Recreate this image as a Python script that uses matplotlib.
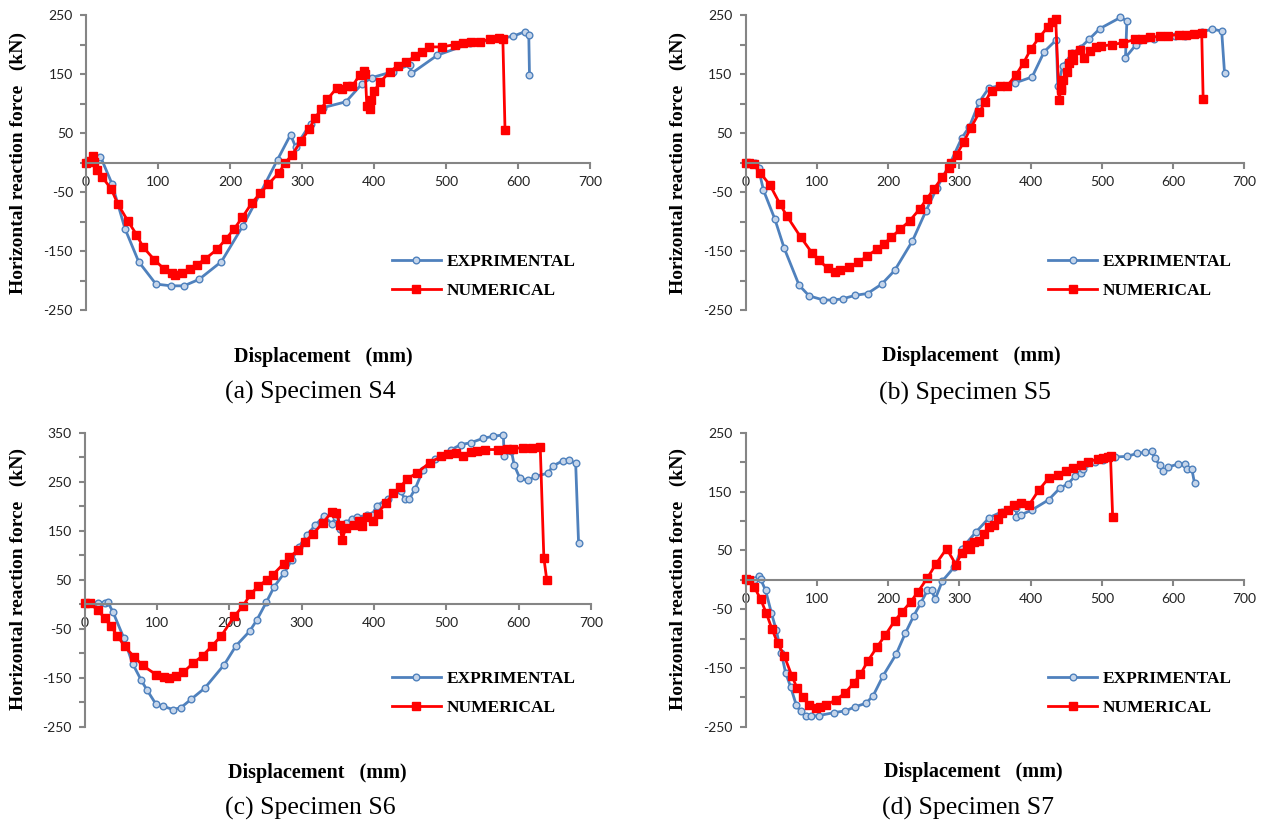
import matplotlib
matplotlib.use('Agg')
import matplotlib.pyplot as plt
from matplotlib.lines import Line2D

# ---- data (displacement mm, force kN) ----
# S4
s4_exp_x = [0, 20, 36, 54, 73, 97, 118, 136, 157, 188, 218, 242, 266, 284, 291, 312, 329, 361, 383, 397,
            426, 450, 452, 488, 534, 593, 610, 615, 616]
s4_exp_y = [0, 10, -36, -112, -168, -206, -209, -209, -198, -168, -107, -52, 5, 47, 27, 66, 93, 103, 133, 144,
            154, 166, 151, 182, 202, 214, 222, 217, 148]
s4_num_x = [0, 4, 10, 11, 15, 22, 35, 44, 58, 70, 79, 95, 108, 119, 124, 133, 144, 154, 165, 182, 194, 206,
            217, 230, 242, 253, 268, 277, 286, 299, 310, 318, 327, 335, 348, 355, 362, 370, 380, 386, 388, 390,
            395, 396, 400, 409, 422, 433, 445, 457, 466, 477, 494, 513, 524, 535, 547, 561, 573, 579, 582]
s4_num_y = [0, 2, 11, 1, -13, -24, -45, -70, -99, -122, -143, -165, -180, -188, -190, -187, -180, -173, -164,
            -147, -130, -112, -93, -69, -52, -37, -17, 0, 13, 37, 57, 75, 91, 107, 126, 124, 130, 130, 148, 155,
            150, 96, 90, 106, 121, 137, 154, 164, 171, 180, 187, 196, 196, 200, 203, 205, 205, 209, 211, 209, 55]

# S5
s5_exp_x = [0, 13, 18, 25, 41, 54, 75, 89, 109, 123, 136, 154, 171, 191, 209, 234, 253, 268, 287, 303, 314,
            328, 341, 355, 378, 402, 419, 436, 438, 445, 458, 470, 482, 497, 526, 535, 533, 548, 573, 602, 616,
            641, 655, 668, 672]
s5_exp_y = [0, 0, -10, -47, -96, -145, -208, -226, -233, -233, -231, -225, -222, -206, -183, -133, -82, -44,
            -1, 41, 61, 103, 126, 130, 135, 145, 188, 208, 129, 164, 185, 195, 209, 227, 246, 240, 178, 200,
            209, 214, 214, 222, 226, 223, 152]
s5_num_x = [0, 5, 12, 20, 34, 48, 58, 77, 93, 103, 115, 126, 133, 145, 158, 170, 184, 194, 204, 217, 230,
            244, 254, 264, 276, 285, 288, 296, 306, 316, 328, 336, 345, 357, 367, 379, 390, 400, 412, 424, 430,
            435, 440, 442, 443, 446, 451, 454, 458, 460, 469, 475, 483, 491, 498, 514, 530, 547, 556, 567, 581,
            592, 608, 618, 629, 640, 642]
s5_num_y = [0, 0, -3, -17, -38, -70, -91, -126, -153, -166, -179, -185, -182, -177, -169, -159, -147, -138,
            -127, -113, -99, -79, -62, -45, -25, -9, -1, 13, 35, 59, 85, 103, 122, 130, 130, 148, 169, 192, 212,
            230, 238, 244, 106, 123, 127, 140, 154, 168, 184, 174, 190, 178, 189, 196, 197, 200, 203, 209, 209,
            212, 214, 215, 217, 217, 218, 219, 108]

# S6
s6_exp_x = [0, 18, 28, 32, 39, 54, 66, 78, 86, 98, 108, 122, 133, 147, 166, 193, 209, 228, 238, 251, 262,
            276, 286, 296, 307, 319, 331, 342, 347, 353, 361, 369, 377, 390, 397, 404, 419, 437, 443, 449, 457,
            468, 484, 506, 520, 534, 551, 565, 579, 580, 590, 594, 602, 613, 623, 641, 647, 661, 670, 679, 683]
s6_exp_y = [3, 3, 3, 4, -16, -69, -121, -155, -175, -203, -208, -215, -211, -194, -171, -123, -85, -55, -32,
            4, 36, 64, 90, 117, 141, 162, 180, 164, 178, 153, 166, 175, 178, 182, 182, 201, 216, 231, 214, 215,
            236, 275, 296, 315, 326, 330, 339, 343, 346, 302, 314, 284, 257, 253, 261, 268, 282, 293, 294, 288,
            126]
s6_num_x = [0, 7, 18, 28, 36, 45, 55, 68, 80, 99, 110, 116, 126, 136, 150, 163, 176, 189, 207, 219, 229,
            240, 252, 260, 275, 283, 295, 304, 316, 329, 342, 348, 353, 356, 361, 373, 379, 383, 390, 398, 405,
            416, 427, 436, 446, 459, 477, 493, 503, 513, 523, 534, 543, 554, 571, 584, 593, 606, 618, 630, 635,
            639]
s6_num_y = [3, 2, -12, -29, -45, -64, -86, -107, -125, -144, -148, -151, -147, -139, -120, -105, -85, -64,
            -24, -3, 20, 37, 50, 60, 83, 96, 111, 127, 144, 166, 189, 187, 161, 132, 156, 161, 171, 160, 179,
            171, 185, 206, 227, 239, 256, 268, 289, 302, 307, 309, 303, 310, 313, 316, 316, 318, 318, 320, 320,
            322, 95, 50]

# S7
s7_exp_x = [0, 11, 18, 21, 28, 36, 43, 50, 56, 63, 71, 77, 84, 92, 103, 124, 140, 154, 169, 179, 193, 211,
            224, 236, 246, 255, 261, 266, 276, 293, 303, 323, 342, 360, 380, 380, 387, 402, 425, 441, 452, 462,
            470, 474, 490, 502, 518, 535, 549, 560, 570, 574, 581, 585, 593, 607, 616, 620, 626, 630]
s7_exp_y = [2, 0, 7, 1, -18, -56, -86, -125, -158, -182, -213, -224, -231, -232, -231, -226, -223, -216,
            -210, -197, -163, -127, -91, -61, -39, -18, -18, -33, -2, 22, 53, 81, 106, 116, 122, 107, 111, 119,
            136, 156, 163, 176, 182, 189, 200, 204, 209, 210, 215, 217, 219, 207, 195, 185, 192, 197, 197, 188,
            189, 164]
s7_num_x = [0, 5, 12, 21, 29, 37, 45, 54, 65, 72, 81, 89, 98, 105, 113, 127, 140, 152, 161, 171, 184, 196,
            209, 220, 232, 242, 255, 267, 282, 295, 303, 310, 315, 320, 327, 334, 341, 348, 354, 360, 368, 377,
            387, 398, 411, 425, 439, 449, 459, 470, 480, 494, 501, 508, 512, 515]
s7_num_y = [2, -1, -12, -33, -57, -84, -108, -129, -164, -184, -199, -213, -219, -216, -213, -204, -192,
            -175, -161, -139, -115, -94, -70, -54, -37, -20, 3, 27, 53, 26, 45, 59, 52, 65, 66, 78, 90, 94, 104,
            114, 118, 127, 131, 128, 152, 173, 178, 185, 191, 196, 200, 206, 208, 209, 210, 107]

panels = [
    ('(a) Specimen S4', s4_exp_x, s4_exp_y, s4_num_x, s4_num_y, (-250, 250)),
    ('(b) Specimen S5', s5_exp_x, s5_exp_y, s5_num_x, s5_num_y, (-250, 250)),
    ('(c) Specimen S6', s6_exp_x, s6_exp_y, s6_num_x, s6_num_y, (-250, 350)),
    ('(d) Specimen S7', s7_exp_x, s7_exp_y, s7_num_x, s7_num_y, (-250, 250)),
]

# layout (figure fractions)
axes_pos = [[0.068, 0.6233, 0.398, 0.3584],
            [0.589, 0.6233, 0.394, 0.3584],
            [0.067, 0.117, 0.3997, 0.357],
            [0.589, 0.117, 0.394, 0.357]]
ylab_pos = [(0.0146, 0.802), (0.536, 0.802), (0.0146, 0.296), (0.536, 0.297)]
xlab_pos = [(0.255, 0.566), (0.767, 0.567), (0.251, 0.061), (0.769, 0.062)]
cap_pos = [(0.245, 0.523), (0.762, 0.522), (0.245, 0.018), (0.765, 0.018)]

blue = '#4F81BD'
red = '#FF0000'
grey = '#858585'
bold_font = 'Liberation Serif'
tick_font = 'Lato'

fig = plt.figure(figsize=(12.66, 8.23), dpi=100)

for i, (cap, ex, ey, nx, ny, ylim) in enumerate(panels):
    ax = fig.add_axes(axes_pos[i])
    ax.plot(ex, ey, color=blue, lw=2.0, marker='o', ms=4.8, mfc='#C5D5EA', mec=blue, mew=1.0, clip_on=False)
    ax.plot(nx, ny, color=red, lw=2.0, marker='s', ms=5.2, mfc=red, mec=red, clip_on=False)
    ax.set_xlim(0, 700)
    ax.set_ylim(*ylim)

    ax.spines['top'].set_visible(False)
    ax.spines['right'].set_visible(False)
    ax.spines['bottom'].set_position(('data', 0))
    for s in ('left', 'bottom'):
        ax.spines[s].set_color(grey)
        ax.spines[s].set_linewidth(1.5)

    ax.set_xticks(range(0, 701, 100))
    yt = list(range(ylim[0], ylim[1] + 1, 50))
    ax.set_yticks(yt)
    ax.set_yticklabels([str(v) if (v - ylim[0]) % 100 == 0 else '' for v in yt])
    ax.tick_params(axis='both', direction='out', length=4.5, width=1.5, color=grey,
                   labelsize=10, labelcolor='#222222', pad=5)
    for lab in ax.get_xticklabels() + ax.get_yticklabels():
        lab.set_fontfamily(tick_font)

    handles = [Line2D([], [], color=blue, lw=2.0, marker='o', ms=4.8, mfc='#C5D5EA', mec=blue),
               Line2D([], [], color=red, lw=2.0, marker='s', ms=5.2, mfc=red, mec=red)]
    ax.legend(handles, ['EXPRIMENTAL', 'NUMERICAL'], loc='center left', bbox_to_anchor=(0.607, 0.113),
              frameon=False, borderpad=0, borderaxespad=0, handlelength=2.8, handletextpad=0.35,
              labelspacing=0.75, prop={'family': bold_font, 'weight': 'bold', 'size': 12.5})

    fig.text(*ylab_pos[i], 'Horizontal reaction force   (kN)', rotation=90, ha='center', va='center',
             fontfamily=bold_font, fontweight='bold', fontsize=14)
    fig.text(*xlab_pos[i], 'Displacement   (mm)', ha='center', va='center',
             fontfamily=bold_font, fontweight='bold', fontsize=14.5)
    fig.text(*cap_pos[i], cap, ha='center', va='center', fontfamily='Liberation Serif', fontsize=18.5)

fig.savefig('out.png', dpi=100)
